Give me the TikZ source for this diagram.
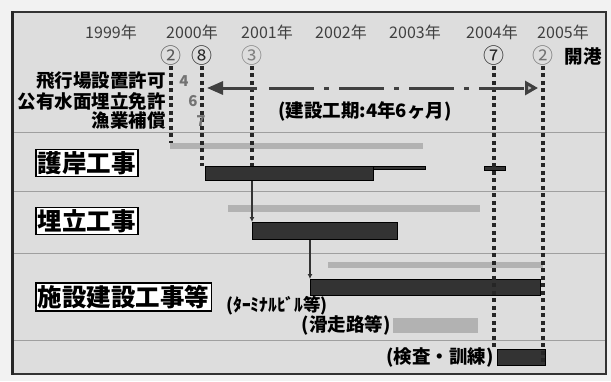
\documentclass[tikz,border=0pt]{standalone}
\usepackage{fontspec}
\setmainfont{Noto Sans CJK JP}
\usetikzlibrary{arrows.meta}
\begin{document}
\begin{tikzpicture}[x=1pt,y=-1pt,
  lab/.style={font=\fontsize{18.5}{19}\selectfont\bfseries, inner sep=0pt},
  boxlab/.style={draw, line width=1.6pt, fill=white, font=\fontsize{24.5}{25}\selectfont\bfseries, inner sep=2pt, anchor=west},
  yr/.style={font=\fontsize{16}{16}\selectfont, text=black!75, inner sep=0pt},
  circ/.style={font=\fontsize{21}{21}\selectfont, text=black!65, inner sep=0pt},
  mon/.style={font=\fontsize{15}{15}\selectfont\bfseries, text=black!55, inner sep=0pt},
  dline/.style={line width=3.5pt, dash pattern=on 4pt off 3.5pt, black!85},
  gbar/.style={fill=gray!60, draw=none, inner sep=0pt, anchor=north west},
  dbar/.style={fill=black!80, draw=black, line width=0.8pt, inner sep=0pt, anchor=north west},
  rowline/.style={gray!75, line width=0.8pt}
]
\useasboundingbox (0,0) rectangle (611,381);
% background
\fill[gray!10] (0,0) rectangle (611,381);
\fill[gray!27] (12,12) rectangle (606,374);
\draw[black!80, line width=1.5pt] (12,12) -- (606,12) -- (606,374) -- (12,374);
\draw[black!85, line width=3pt] (12,11) -- (12,375);
% row lines
\foreach \yy in {132,191,253,340} \draw[rowline] (14,\yy) -- (605,\yy);

% years
\node[yr] (y1999) at (111,32) {1999年};
\node[yr] (y2000) at (192,32) {2000年};
\node[yr] (y2001) at (267,32) {2001年};
\node[yr] (y2002) at (341,32) {2002年};
\node[yr] (y2003) at (415,32) {2003年};
\node[yr] (y2004) at (492,32) {2004年};
\node[yr] (y2005) at (563,32) {2005年};

% circled markers
\node[circ] (c2a) at (171,56) {②};
\node[circ, text=black!85] (c8) at (202,56) {⑧};
\node[circ, text=black!50] (c3) at (252,56) {③};
\node[circ, text=black!85] (c7) at (494,56) {⑦};
\node[circ, text=black!55] (c2b) at (543,56) {②};
\node[lab] (open) at (583,56) {開港};

% bars
\node[gbar, minimum width=253pt, minimum height=6pt] (ggray) at (170,143) {};
\node[dbar, minimum width=168pt, minimum height=14pt] (gdark) at (205,166) {};
\node[dbar, minimum width=52pt, minimum height=3pt] (gline) at (373,166) {};
\node[dbar, minimum width=21pt, minimum height=4pt] (gdash) at (484,166) {};
\node[gbar, minimum width=252pt, minimum height=7pt] (ugray) at (228,205) {};
\node[dbar, minimum width=145pt, minimum height=17pt] (udark) at (252,222) {};
\node[gbar, minimum width=215pt, minimum height=6pt] (sgray) at (328,262) {};
\node[dbar, minimum width=230pt, minimum height=16pt] (sdark) at (310,279) {};
\node[gbar, minimum width=85pt, minimum height=15pt] (rgray) at (393,318) {};
\node[dbar, minimum width=48pt, minimum height=16pt] (kdark) at (497,349) {};

% vertical marker lines
\draw[dline] (c2a.south) -- (c2a.south |- ggray.north);
\draw[dline] (c8.south) -- (c8.south |- gdark.north);
\draw[dline] (c3.south) -- (c3.south |- gdark.north);
\draw[dline] (c7.south) -- (c7.south |- kdark.north);
\draw[dline] (c2b.south) -- (c2b.south |- kdark.south);
\draw[black!80, line width=1.2pt, -{Latex[length=5pt,width=5pt]}] (gdark.south -| c3) -- (udark.north -| c3);
\draw[black!80, line width=1.2pt, -{Latex[length=5pt,width=5pt]}] (udark.south -| sdark.north west) -- (sdark.north west);

% construction period arrow
\coordinate (arL) at (207,88);
\coordinate (arM) at (257,88);
\coordinate (arR) at (538,88);
\draw[black!75, line width=3pt, {Triangle[length=16pt,width=13pt]}-] (arL) -- (arM);
\draw[black!75, line width=3pt, dash pattern=on 45pt off 10pt on 5pt off 10pt, -{Triangle[open,length=13pt,width=14pt,fill=gray!50]}] ([xshift=12pt]arM) -- (arR);
\node[lab] (period) at (365,111) {(建設工期:4年6ヶ月)};

% left labels
\node[lab, anchor=east] (l1) at (166,81) {飛行場設置許可};
\node[lab, anchor=east] (l2) at (166,101) {公有水面埋立免許};
\node[lab, anchor=east] (l3) at (166,120) {漁業補償};
\node[mon] (m4) at (184,81) {4};
\node[mon] (m6) at (193,101) {6};
\node[mon] (m7) at (201,121) {7};

% boxed labels
\node[boxlab] (goban) at (35,163) {護岸工事};
\node[boxlab] (umetate) at (35,221) {埋立工事};
\node[boxlab] (shisetsu) at (35,297) {施設建設工事等};

% sub labels
\node[lab, font=\fontsize{17.5}{18}\selectfont\bfseries] (term) at (277,306) {(ﾀｰﾐﾅﾙﾋﾞﾙ等)};
\node[lab] (runway) at (346,325) {(滑走路等)};
\node[lab] (kensa) at (440,357) {(検査・訓練)};
\end{tikzpicture}
\end{document}
